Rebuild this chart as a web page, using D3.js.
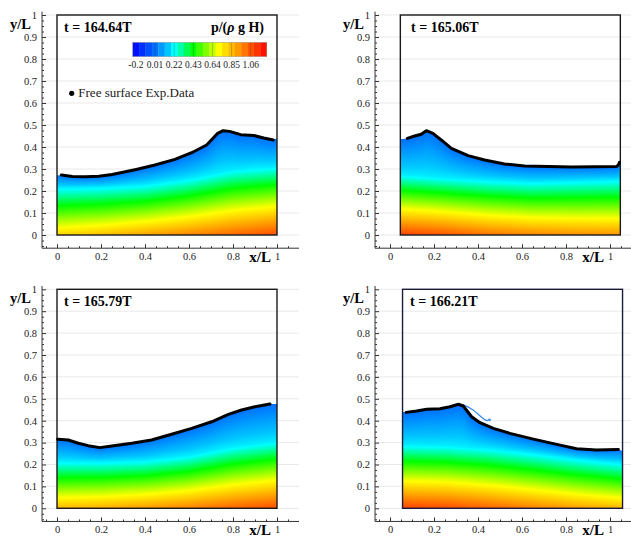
<!DOCTYPE html>
<html>
<head>
<meta charset="utf-8">
<script src="https://cdn.jsdelivr.net/npm/d3@7"></script>
<style>
  body { margin: 0; background: #fff; }
  svg { display: block; font-family: "Liberation Serif", "Times New Roman", serif; }
</style>
</head>
<body>
<svg id="chart" width="631" height="538"></svg>
<script>
// ---- data ----
const times = ["164.64", "165.06", "165.79", "166.21"];
const tankLeft = [0, 0.047, 0, 0.057];   // tank has moved a little in frames 2 and 4

// experimental free surface (black line)
const surf1X = [0.02, 0.07, 0.13, 0.19, 0.25, 0.3, 0.36, 0.445, 0.536, 0.612, 0.68, 0.705, 0.73, 0.755, 0.785, 0.835, 0.895, 0.94, 0.983];
const surf1Y = [0.273, 0.266, 0.265, 0.267, 0.275, 0.285, 0.298, 0.318, 0.344, 0.374, 0.409, 0.435, 0.462, 0.474, 0.471, 0.456, 0.452, 0.441, 0.432];
const surf2X = [0.079, 0.112, 0.142, 0.165, 0.195, 0.233, 0.279, 0.355, 0.43, 0.521, 0.612, 0.718, 0.824, 0.93, 1.029, 1.038, 1.043];
const surf2Y = [0.439, 0.45, 0.458, 0.474, 0.462, 0.432, 0.394, 0.361, 0.341, 0.323, 0.314, 0.311, 0.309, 0.31, 0.311, 0.318, 0.33];
const surf3X = [0.003, 0.051, 0.097, 0.142, 0.195, 0.249, 0.34, 0.43, 0.521, 0.612, 0.703, 0.779, 0.839, 0.9, 0.968];
const surf3Y = [0.315, 0.312, 0.297, 0.286, 0.277, 0.284, 0.297, 0.312, 0.338, 0.365, 0.395, 0.429, 0.449, 0.464, 0.476];
const surf4X = [0.073, 0.121, 0.167, 0.227, 0.273, 0.311, 0.333, 0.371, 0.409, 0.47, 0.545, 0.652, 0.758, 0.848, 0.939, 1.038];
const surf4Y = [0.438, 0.444, 0.452, 0.455, 0.464, 0.475, 0.467, 0.418, 0.391, 0.365, 0.342, 0.316, 0.292, 0.272, 0.266, 0.269];

// simulated water height at the two walls
const wallL = [0.27, 0.435, 0.335, 0.441];
const wallR = [0.44, 0.32, 0.476, 0.262];

// overturning tip of the simulated surface in frame 4 (thin blue line)
const tip4X = [0.311, 0.339, 0.376, 0.41, 0.432, 0.444, 0.452, 0.456, 0.452];
const tip4Y = [0.475, 0.47, 0.45, 0.422, 0.404, 0.401, 0.407, 0.404, 0.398];

// pressure field: height of the p=0.2 (cyan) contour and bottom pressure, six stations across the tank
const stations = [0, 0.2, 0.4, 0.6, 0.8, 1.0];
const cyan1 = [0.214, 0.218, 0.228, 0.255, 0.295, 0.31];
const bottom1 = [0.8, 0.84, 0.9, 0.96, 1.02, 1.08];
const cyan2 = [0.273, 0.26, 0.248, 0.24, 0.245, 0.25];
const bottom2 = [1.1, 1.06, 1.0, 0.96, 0.94, 0.93];
const cyan3 = [0.213, 0.212, 0.218, 0.24, 0.28, 0.305];
const bottom3 = [0.86, 0.88, 0.92, 0.97, 1.03, 1.08];
const cyan4 = [0.289, 0.285, 0.272, 0.25, 0.225, 0.205];
const bottom4 = [1.1, 1.08, 1.03, 0.97, 0.91, 0.86];
const surfaceP = 0.01;

// colour bar
const cbLevels = [-0.2, -0.13, -0.06, 0.01, 0.08, 0.15, 0.22, 0.29, 0.36, 0.43, 0.5, 0.57, 0.64, 0.71, 0.78, 0.85, 0.92, 0.99, 1.06, 1.13, 1.2];
const cbLabels = [-0.2, 0.01, 0.22, 0.43, 0.64, 0.85, 1.06];

const yTicks = [0, 0.1, 0.2, 0.3, 0.4, 0.5, 0.6, 0.7, 0.8, 0.9, 1];
const xTicks = [0, 0.2, 0.4, 0.6, 0.8, 1];

const surfX = [surf1X, surf2X, surf3X, surf4X];
const surfY = [surf1Y, surf2Y, surf3Y, surf4Y];
const cyanY = [cyan1, cyan2, cyan3, cyan4];
const bottomP = [bottom1, bottom2, bottom3, bottom4];

// ---- layout ----
const panels = [
  { x0: 57, x1: 277, y0: 235, y1: 15, titleX: 64 },
  { x0: 390, x1: 610, y0: 235, y1: 15, titleX: 411 },
  { x0: 57, x1: 277, y0: 508.3, y1: 289.3, titleX: 64 },
  { x0: 390, x1: 610, y0: 508.3, y1: 289.3, titleX: 410 }
];

const color = d3.scaleLinear()
  .domain([-0.235, 0.01, 0.15, 0.22, 0.43, 0.71, 1.235])
  .range(["#0000ff", "#0070ff", "#00c4ff", "#00ffff", "#00ff00", "#ffff00", "#ff0000"])
  .clamp(true);

const svg = d3.select("#chart");

panels.forEach((P, i) => {
  const x = d3.scaleLinear().domain([0, 1]).range([P.x0, P.x1]);
  const y = d3.scaleLinear().domain([0, 1]).range([P.y0, P.y1]);
  const g = svg.append("g");
  const tl = tankLeft[i], tr = tankLeft[i] + 1;

  const axX = x(-0.068), axY = y(-0.06), axRight = x(1.1);

  // grid
  g.append("g").selectAll("line").data(yTicks).join("line")
    .attr("x1", axX).attr("x2", axRight)
    .attr("y1", d => y(d)).attr("y2", d => y(d))
    .attr("stroke", "#e9e9e9").attr("stroke-width", 1);

  // fill boundary (simulated surface)
  const fx = [tl].concat(surfX[i].filter(v => v > tl && v < tr), [tr]);
  const fy = [wallL[i]].concat(surfY[i].filter((v, k) => surfX[i][k] > tl && surfX[i][k] < tr), [wallR[i]]);
  const eta = d3.scaleLinear().domain(fx).range(fy);
  const yc = d3.scaleLinear().domain(stations.map(s => s + tl)).range(cyanY[i]).clamp(true);
  const pb = d3.scaleLinear().domain(stations.map(s => s + tl)).range(bottomP[i]).clamp(true);

  // pressure raster
  const px0 = Math.round(x(tl)), px1 = Math.round(x(tr));
  const py1 = Math.round(y(0.5)), py0 = Math.round(y(0));
  const W = px1 - px0, H = py0 - py1;
  const cv = document.createElement("canvas");
  cv.width = W; cv.height = H;
  const ctx = cv.getContext("2d");
  const img = ctx.createImageData(W, H);
  for (let c = 0; c < W; c++) {
    const xv = x.invert(px0 + c + 0.5);
    const e = eta(xv), c2 = yc(xv), b = pb(xv);
    for (let r = 0; r < H; r++) {
      const yv = y.invert(py1 + r + 0.5);
      if (yv > e + 0.004) continue;
      let p;
      if (yv <= c2) p = 0.2 + (b - 0.2) * (c2 - yv) / c2;
      else p = 0.2 - (0.2 - surfaceP) * (yv - c2) / Math.max(e - c2, 0.01);
      const col = d3.rgb(color(p));
      const o = (r * W + c) * 4;
      img.data[o] = col.r; img.data[o + 1] = col.g; img.data[o + 2] = col.b; img.data[o + 3] = 255;
    }
  }
  ctx.putImageData(img, 0, 0);

  const clipId = "clip" + i;
  const area = d3.area().x((d, k) => x(fx[k])).y0(y(0)).y1((d, k) => y(fy[k]));
  g.append("clipPath").attr("id", clipId).append("path").attr("d", area(fx));
  g.append("image")
    .attr("href", cv.toDataURL())
    .attr("x", px0).attr("y", py1).attr("width", W).attr("height", H)
    .attr("preserveAspectRatio", "none")
    .attr("clip-path", `url(#${clipId})`);

  // tank box
  g.append("rect")
    .attr("x", x(tl)).attr("y", y(1))
    .attr("width", x(tr) - x(tl)).attr("height", y(0) - y(1))
    .attr("fill", "none").attr("stroke", i === 3 ? "#1a1a3a" : "#1a1a1a").attr("stroke-width", 1.4);

  // axes
  g.append("line").attr("x1", axX).attr("x2", axX).attr("y1", y(1.015)).attr("y2", axY)
    .attr("stroke", "#333");
  g.append("line").attr("x1", axX).attr("x2", axRight).attr("y1", axY).attr("y2", axY)
    .attr("stroke", "#333");

  const yMinor = d3.range(-0.05, 1.001, 0.025).filter(v => Math.abs(v * 10 - Math.round(v * 10)) > 0.01);
  const xMinor = d3.range(-0.05, 1.06, 0.05).filter(v => Math.abs(v * 5 - Math.round(v * 5)) > 0.01);
  const fmt = d => d === 0 ? "0" : d === 1 ? "1" : d.toFixed(1);

  const ya = g.append("g").attr("transform", `translate(${axX},0)`)
    .call(d3.axisLeft(y).tickValues(yTicks).tickFormat(fmt).tickSizeInner(-4).tickSizeOuter(0).tickPadding(5));
  g.append("g").attr("transform", `translate(${axX},0)`)
    .call(d3.axisLeft(y).tickValues(yMinor).tickFormat("").tickSizeInner(-2).tickSizeOuter(0));
  const xa = g.append("g").attr("transform", `translate(0,${axY})`)
    .call(d3.axisBottom(x).tickValues(xTicks).tickFormat(fmt).tickSizeInner(-4).tickSizeOuter(0).tickPadding(4));
  g.append("g").attr("transform", `translate(0,${axY})`)
    .call(d3.axisBottom(x).tickValues(xMinor).tickFormat("").tickSizeInner(-2).tickSizeOuter(0));
  g.selectAll(".domain").remove();
  g.selectAll(".tick line").attr("stroke", "#333");
  [ya, xa].forEach(a => a.attr("font-family", null).attr("font-size", 10.5)
    .selectAll("text").attr("fill", "#222"));

  g.append("text").attr("x", axX - 11).attr("y", y(1) + 13.5)
    .attr("text-anchor", "end").attr("font-weight", "bold").attr("font-size", 14.5).text("y/L");
  g.append("text").attr("x", x(1) - 6).attr("y", axY + 14)
    .attr("text-anchor", "end").attr("font-weight", "bold").attr("font-size", 15).text("x/L");

  // title
  g.append("text").attr("x", P.titleX).attr("y", y(1) + 16.5)
    .attr("font-weight", "bold").attr("font-size", 14).text(`t = ${times[i]}T`);

  // thin blue line of the simulated overturning tip
  if (i === 3) {
    g.append("path")
      .attr("d", d3.line().x((d, k) => x(tip4X[k])).y((d, k) => y(tip4Y[k])).curve(d3.curveCatmullRom)(tip4X))
      .attr("fill", "none").attr("stroke", "#3b8ff0").attr("stroke-width", 1.3);
  }

  // experimental free surface
  g.append("path")
    .attr("d", d3.line().x((d, k) => x(surfX[i][k])).y((d, k) => y(surfY[i][k]))(surfX[i]))
    .attr("fill", "none").attr("stroke", "#000").attr("stroke-width", 3)
    .attr("stroke-linejoin", "round").attr("stroke-linecap", "round");

  // colour bar and legend in the first frame
  if (i === 0) {
    const cb = d3.scaleLinear().domain([-0.235, 1.235]).range([132.7, 266.7]);
    const cbg = g.append("g");
    cbg.selectAll("rect").data(cbLevels).join("rect")
      .attr("x", d => cb(d - 0.035)).attr("width", d => cb(d + 0.035) - cb(d - 0.035) + 0.3)
      .attr("y", 42.3).attr("height", 14.4)
      .attr("fill", d => color(d));
    cbg.selectAll("line").data(cbLabels.slice(1)).join("line")
      .attr("x1", d => cb(d)).attr("x2", d => cb(d)).attr("y1", 42.3).attr("y2", 56.7)
      .attr("stroke", "rgba(0,0,0,0.25)").attr("stroke-width", 0.8);
    cbg.append("rect").attr("x", cb(-0.235)).attr("y", 42.3)
      .attr("width", cb(1.235) - cb(-0.235)).attr("height", 14.4)
      .attr("fill", "none").attr("stroke", "#999").attr("stroke-width", 0.5);
    cbg.selectAll("text").data(cbLabels).join("text")
      .attr("x", d => cb(d)).attr("y", 67.5).attr("text-anchor", "middle")
      .attr("font-size", 9.5).attr("fill", "#222").text(d => d);

    const pt = g.append("text").attr("x", 264).attr("y", 31.5).attr("text-anchor", "end")
      .attr("font-weight", "bold").attr("font-size", 14);
    pt.append("tspan").text("p/(");
    pt.append("tspan").attr("font-style", "italic").text("ρ");
    pt.append("tspan").text(" g H)");

    g.append("circle").attr("cx", 71.7).attr("cy", 93.3).attr("r", 2.6).attr("fill", "#000");
    g.append("text").attr("x", 78.3).attr("y", 97).attr("font-size", 13).attr("fill", "#222")
      .text("Free surface Exp.Data");
  }
});
</script>
</body>
</html>
